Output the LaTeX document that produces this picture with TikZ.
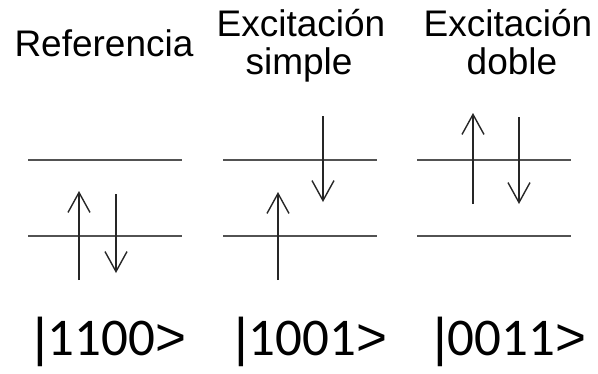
\documentclass[tikz,border=0pt]{standalone}
\usepackage{fontspec}
\setmainfont{Liberation Sans}
\newfontfamily\ketfont{Carlito}
\newfontfamily\symfont{Liberation Sans}
\newcommand{\myket}[1]{{\symfont|}#1{\symfont>}}
\usetikzlibrary{arrows.meta}
\begin{document}
\begin{tikzpicture}[x=1pt,y=-1pt,
  level/.style={line width=1.8pt,draw=black!68},
  spin/.style={line width=1.4pt,draw=black!85,-{Straight Barb[length=20pt,width=22pt,line width=1.4pt]}},
  title/.style={font=\fontsize{37}{38}\selectfont,anchor=base,inner sep=0pt,text=black},
  ket/.style={font=\ketfont\fontsize{53}{53}\selectfont,anchor=base,inner sep=0pt,text=black}]
\useasboundingbox (0,0) rectangle (598,373);
% titles
\node[title] (t1) at (104,56) {Referencia};
\node[title] (t2) at (301,36) {Excitación};
\node[title] (t2b) at (299,74) {simple};
\node[title] (t3) at (508,36) {Excitación};
\node[title] (t3b) at (512,74) {doble};
% levels
\foreach \n/\xa/\xb in {a/28/182,b/223/377,c/417/571}{
  \coordinate (\n hl) at (\xa,160); \coordinate (\n hr) at (\xb,160);
  \coordinate (\n ll) at (\xa,236); \coordinate (\n lr) at (\xb,236);
  \draw[level] (\n hl) -- (\n hr);
  \draw[level] (\n ll) -- (\n lr);
}
% spins: reference
\coordinate (a1s) at (79,280); \coordinate (a1e) at (79,191);
\coordinate (a2s) at (116,194); \coordinate (a2e) at (116,273);
\draw[spin] (a1s) -- (a1e);
\draw[spin] (a2s) -- (a2e);
% single excitation
\coordinate (b1s) at (278,280); \coordinate (b1e) at (278,192);
\coordinate (b2s) at (323,116); \coordinate (b2e) at (323,202);
\draw[spin] (b1s) -- (b1e);
\draw[spin] (b2s) -- (b2e);
% double excitation
\coordinate (c1s) at (473,204); \coordinate (c1e) at (473,113);
\coordinate (c2s) at (519,117); \coordinate (c2e) at (519,204);
\draw[spin] (c1s) -- (c1e);
\draw[spin] (c2s) -- (c2e);
% kets
\node[ket] (k1) at (110,355) {\myket{1100}};
\node[ket] (k2) at (311,355) {\myket{1001}};
\node[ket] (k3) at (510,355) {\myket{0011}};
\end{tikzpicture}
\end{document}
